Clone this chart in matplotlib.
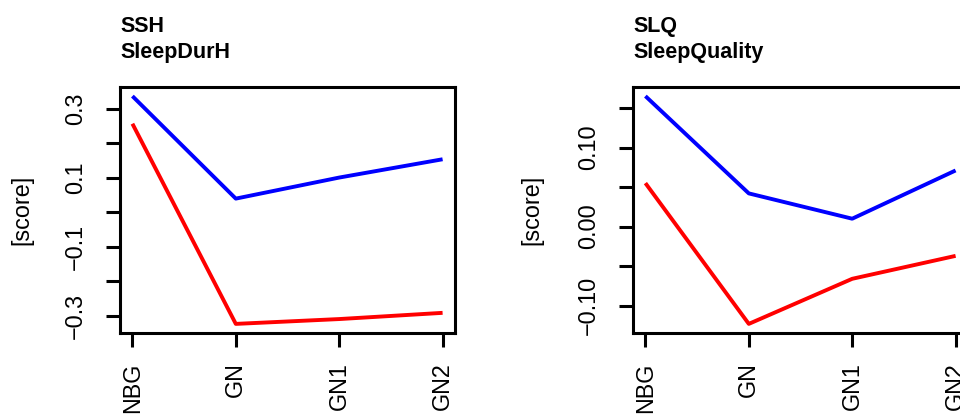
import matplotlib
matplotlib.use('Agg')
import matplotlib.pyplot as plt

plt.rcParams['font.family'] = ['Liberation Sans', 'DejaVu Sans']

groups = ['NBG', 'GN', 'GN1', 'GN2']

# left panel: SSH / SleepDurH
ssh_blue = [0.336, 0.039, 0.100, 0.153]
ssh_red = [0.256, -0.324, -0.310, -0.292]
ssh_ticks = [-0.3, -0.2, -0.1, 0.0, 0.1, 0.2, 0.3]
ssh_ticklabels = ['\u22120.3', '', '\u22120.1', '', '0.1', '', '0.3']

# right panel: SLQ / SleepQuality
slq_blue = [0.165, 0.042, 0.010, 0.071]
slq_red = [0.055, -0.123, -0.066, -0.037]
slq_ticks = [-0.10, -0.05, 0.0, 0.05, 0.10, 0.15]
slq_ticklabels = ['\u22120.10', '', '0.00', '', '0.10', '']

panels = [
    ('SSH', 'SleepDurH', ssh_blue, ssh_red, ssh_ticks, ssh_ticklabels, 120, 22),
    ('SLQ', 'SleepQuality', slq_blue, slq_red, slq_ticks, slq_ticklabels, 633, 532),
]

W, H = 960, 415
fig = plt.figure(figsize=(W / 100, H / 100), dpi=100)

for code, name, blue, red, ticks, tlabels, left_px, lab_px in panels:
    # right panel runs past the figure edge, as in the original
    ax = fig.add_axes([left_px / W, (H - 333) / H, 335 / W, 246 / H])
    x = list(range(1, len(groups) + 1))
    ax.plot(x, blue, color='#0000ff', lw=2.8, solid_capstyle='butt')
    ax.plot(x, red, color='#ff0000', lw=2.8, solid_capstyle='butt')

    # R style 4% padding
    lo = min(min(blue), min(red))
    hi = max(max(blue), max(red))
    span = hi - lo
    ax.set_ylim(lo - 0.04 * span, hi + 0.04 * span)
    ax.set_xlim(1 - 0.12, 4 + 0.12)

    ax.set_xticks(x)
    ax.set_xticklabels(groups, rotation=90, fontsize=16.8)
    ax.set_yticks(ticks)
    ax.set_yticklabels(tlabels, rotation=90, va='center', fontsize=16.8)
    ax.tick_params(axis='both', direction='out', length=10, width=2.2)
    ax.tick_params(axis='x', pad=11)
    ax.tick_params(axis='y', pad=14)
    for sp in ax.spines.values():
        sp.set_linewidth(2.2)

    ax.text((lab_px - left_px) / 335, 0.5, '[score]', transform=ax.transAxes,
            rotation=90, ha='center', va='center', fontsize=16.8)

    fig.text(left_px / W, 1 - 31.7 / H, code, fontsize=15.5, fontweight='bold',
             ha='left', va='baseline')
    fig.text(left_px / W, 1 - 58.3 / H, name, fontsize=15.5, fontweight='bold',
             ha='left', va='baseline')

fig.savefig('out.png', dpi=100)
